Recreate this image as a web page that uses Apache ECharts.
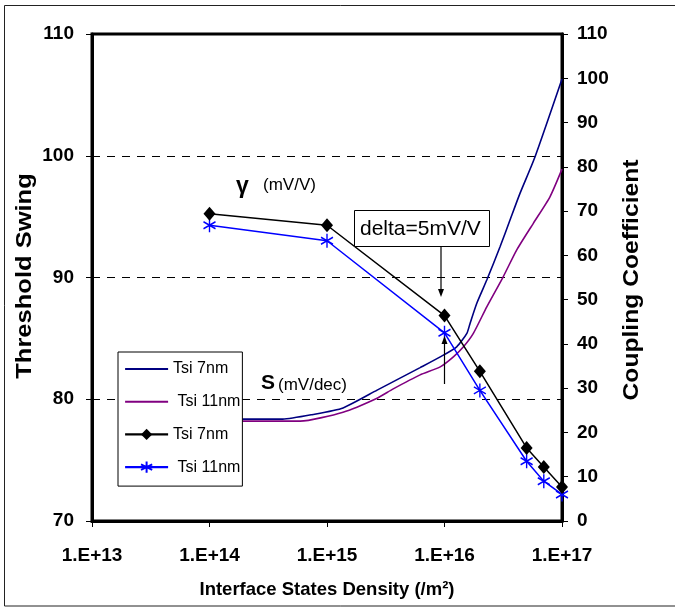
<!DOCTYPE html>
<html>
<head>
<meta charset="utf-8">
<script src="https://cdn.jsdelivr.net/npm/echarts@6/dist/echarts.min.js"></script>
<style>
  html, body { margin: 0; padding: 0; background: #fff; }
  #chart { width: 675px; height: 610px; }
</style>
</head>
<body>
<div id="chart"></div>
<script>
// Interface states density axis (/m²), decade tick labels
const densityTickLabels = ['1.E+13', '1.E+14', '1.E+15', '1.E+16', '1.E+17'];

// Threshold swing S (mV/dec), Tsi = 7 nm
const sDensity7 = [1.0e14, 4.2e14, 7.6e14, 1.37e15, 2.67e15, 6.2e15, 9.2e15, 1.27e16, 1.55e16, 1.65e16, 1.88e16, 2.29e16, 2.97e16, 3.61e16, 4.39e16, 5.9e16, 1.0e17];
const sSwing7   = [78.37, 78.37, 78.75, 79.29, 80.75, 82.6, 83.48, 84.31, 85.41, 86.23, 87.87, 89.79, 92.52, 94.72, 96.91, 99.92, 106.3];

// Threshold swing S (mV/dec), Tsi = 11 nm
const sDensity11 = [1.0e14, 5.9e14, 1.37e15, 2.67e15, 3.63e15, 6.2e15, 9.2e15, 1.19e16, 1.45e16, 1.76e16, 2.29e16, 3.16e16, 4.11e16, 5.7e16, 7.9e16, 1.0e17];
const sSwing11   = [78.2, 78.2, 78.94, 80.09, 80.83, 82.0, 82.66, 83.48, 84.31, 85.41, 87.59, 90.06, 92.25, 94.45, 96.63, 98.9];

// Coupling coefficient γ (mV/V)
const gammaDensity = [1e14, 1e15, 1e16, 2e16, 5e16, 7e16, 1e17];
const gamma7  = [69.4, 66.8, 46.4, 33.8, 16.5, 12.2, 7.7];
const gamma11 = [66.8, 63.3, 42.5, 29.5, 13.5, 9.0, 6.0];

// Legend entries
const seriesKeys   = ['s7', 's11', 'g7', 'g11'];
const legendLabels = ['Tsi 7nm', ' Tsi 11nm', 'Tsi 7nm', ' Tsi 11nm'];

const FONT = '"Liberation Sans", Arial, sans-serif';

function pairs(xs, ys) { return xs.map((x, i) => [x, ys[i]]); }

const asterisk = 'path://M5,0L5,12M0,3L10,9M0,9L10,3';
// plain line swatch for the curves drawn without markers
const barIcon = 'path://M0,0H40V2H0Z';

const chart = echarts.init(document.getElementById('chart'), null, { renderer: 'canvas' });

const tickLabelStyle = { color: '#000', fontFamily: FONT, fontWeight: 'bold', fontSize: 19 };

chart.setOption({
  backgroundColor: '#fff',
  animation: false,
  textStyle: { fontFamily: FONT },
  grid: {
    left: 92, right: 113, top: 34, bottom: 89,
    show: true, borderColor: '#000', borderWidth: 3, backgroundColor: 'transparent'
  },
  xAxis: {
    type: 'log', logBase: 10, min: 1e13, max: 1e17,
    axisLine: { show: true, lineStyle: { color: '#000', width: 3 } },
    axisTick: { show: true, inside: false, length: 6, lineStyle: { color: '#000', width: 1 } },
    minorTick: { show: false },
    splitLine: { show: false },
    axisLabel: Object.assign({
      margin: 25,
      formatter: v => densityTickLabels[Math.round(Math.log10(v)) - 13]
    }, tickLabelStyle)
  },
  yAxis: [
    {
      type: 'value', min: 70, max: 110, interval: 10, position: 'left',
      axisLine: { show: true, lineStyle: { color: '#000', width: 3 } },
      axisTick: { show: true, inside: false, length: 6, lineStyle: { color: '#000', width: 1 } },
      splitLine: { show: true, lineStyle: { color: '#000', width: 1, type: [8, 7] } },
      axisLabel: Object.assign({ margin: 18 }, tickLabelStyle)
    },
    {
      type: 'value', min: 0, max: 110, interval: 10, position: 'right',
      axisLine: { show: true, lineStyle: { color: '#000', width: 3 } },
      axisTick: { show: true, inside: false, length: 6, lineStyle: { color: '#000', width: 1 } },
      splitLine: { show: false },
      axisLabel: Object.assign({ margin: 15 }, tickLabelStyle)
    }
  ],
  legend: {
    orient: 'vertical',
    left: 118, top: 352,
    data: [
      { name: 's7', icon: barIcon },
      { name: 's11', icon: barIcon },
      { name: 'g7' },
      { name: 'g11' }
    ],
    formatter: name => legendLabels[seriesKeys.indexOf(name)],
    itemWidth: 43, itemHeight: 14, itemGap: 16.7,
    padding: [9, 2, 11, 6],
    backgroundColor: '#fff',
    borderColor: '#000', borderWidth: 1, borderRadius: 0,
    selectedMode: false,
    lineStyle: { width: 2.2 },
    textStyle: { color: '#000', fontSize: 16, fontFamily: FONT }
  },
  series: [
    {
      name: 's7', type: 'line', yAxisIndex: 0,
      data: pairs(sDensity7, sSwing7),
      showSymbol: false, symbol: 'none', smooth: 0.2,
      lineStyle: { color: '#000080', width: 1.6 },
      itemStyle: { color: '#000080' },
      z: 2
    },
    {
      name: 's11', type: 'line', yAxisIndex: 0,
      data: pairs(sDensity11, sSwing11),
      showSymbol: false, symbol: 'none', smooth: 0.2,
      lineStyle: { color: '#800080', width: 1.6 },
      itemStyle: { color: '#800080' },
      z: 2
    },
    {
      name: 'g7', type: 'line', yAxisIndex: 1,
      data: pairs(gammaDensity, gamma7),
      symbol: 'diamond', symbolSize: [12, 14],
      lineStyle: { color: '#000', width: 1.5 },
      itemStyle: { color: '#000', borderWidth: 0 },
      z: 4
    },
    {
      name: 'g11', type: 'line', yAxisIndex: 1,
      data: pairs(gammaDensity, gamma11),
      symbol: asterisk, symbolSize: [12, 14],
      lineStyle: { color: '#0000ff', width: 1.5 },
      itemStyle: { color: 'transparent', borderColor: '#0000ff', borderWidth: 1.5 },
      z: 3
    }
  ],
  graphic: [
    // outer frame
    { type: 'rect', shape: { x: 4.5, y: 5.5, width: 700, height: 600.5 },
      style: { fill: 'none', stroke: '#222', lineWidth: 1 }, silent: true, z: 0 },
    // axis titles
    { type: 'text', x: 25, y: 276, rotation: Math.PI / 2, scaleX: 1.16,
      style: { text: 'Threshold Swing', fontFamily: FONT, fontWeight: 'bold', fontSize: 22,
               fill: '#000', align: 'center', verticalAlign: 'middle' } },
    { type: 'text', x: 632, y: 280, rotation: Math.PI / 2, scaleX: 1.12,
      style: { text: 'Coupling Coefficient', fontFamily: FONT, fontWeight: 'bold', fontSize: 22,
               fill: '#000', align: 'center', verticalAlign: 'middle' } },
    { type: 'text', x: 327, y: 590,
      style: { text: 'Interface States Density (/m²)', fontFamily: FONT, fontWeight: 'bold', fontSize: 18.5,
               fill: '#000', align: 'center', verticalAlign: 'middle' } },
    // curve annotations
    { type: 'text', x: 236, y: 187,
      style: { text: 'γ', fontFamily: FONT, fontWeight: 'bold', fontSize: 23, fill: '#000',
               align: 'left', verticalAlign: 'middle' } },
    { type: 'text', x: 263, y: 185,
      style: { text: '(mV/V)', fontFamily: FONT, fontSize: 17, fill: '#000',
               align: 'left', verticalAlign: 'middle' } },
    { type: 'text', x: 261, y: 383,
      style: { text: 'S', fontFamily: FONT, fontWeight: 'bold', fontSize: 21, fill: '#000',
               align: 'left', verticalAlign: 'middle' } },
    { type: 'text', x: 278, y: 385,
      style: { text: '(mV/dec)', fontFamily: FONT, fontSize: 17, fill: '#000',
               align: 'left', verticalAlign: 'middle' } },
    // delta call-out
    { type: 'rect', shape: { x: 354.5, y: 210.5, width: 135, height: 36 },
      style: { fill: '#fff', stroke: '#000', lineWidth: 1 }, z: 10 },
    { type: 'text', x: 360, y: 229, z: 11,
      style: { text: 'delta=5mV/V', fontFamily: FONT, fontSize: 21, fill: '#000',
               align: 'left', verticalAlign: 'middle' } },
    { type: 'line', shape: { x1: 441, y1: 247, x2: 441, y2: 290 },
      style: { stroke: '#000', lineWidth: 1.2 }, z: 10 },
    { type: 'polygon', shape: { points: [[438, 289], [444, 289], [441, 297]] },
      style: { fill: '#000' }, z: 10 },
    { type: 'line', shape: { x1: 444.5, y1: 384, x2: 444.5, y2: 343 },
      style: { stroke: '#000', lineWidth: 1.2 }, z: 10 },
    { type: 'polygon', shape: { points: [[441.5, 344], [447.5, 344], [444.5, 336]] },
      style: { fill: '#000' }, z: 10 }
  ]
});
</script>
</body>
</html>
